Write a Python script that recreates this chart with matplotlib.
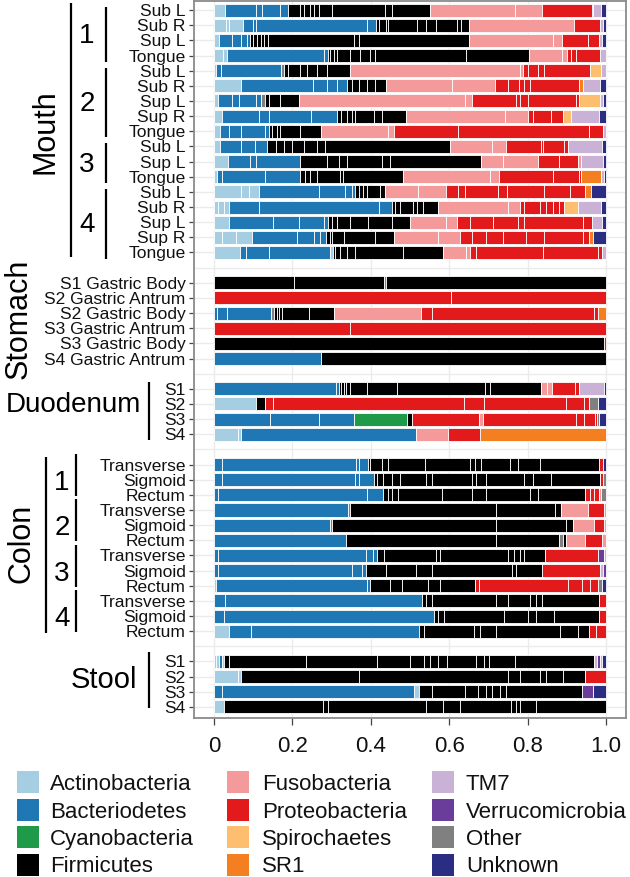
import numpy as np
import matplotlib
matplotlib.use("Agg")
import matplotlib.pyplot as plt
from matplotlib.patches import Rectangle
from matplotlib import transforms

plt.rcParams['font.family'] = ['Liberation Sans', 'DejaVu Sans']

# phyla, one letter code each
phyla = ["Actinobacteria", "Bacteriodetes", "Cyanobacteria", "Firmicutes",
         "Fusobacteria", "Proteobacteria", "Spirochaetes", "SR1",
         "TM7", "Verrucomicrobia", "Other", "Unknown"]
phylum_codes = "ABCFUPSRTVON"
phylum_colors = ["#a6cee3", "#1f78b4", "#1f9a48", "#000000", "#f59a9b", "#e31a1c",
                 "#fdbf6f", "#f47f20", "#cab2d6", "#6a3d9a", "#808080", "#2b2d83"]

# each bar = string of segment codes + cumulative end of each segment

mouth_labels = ["Sub L", "Sub R", "Sup L", "Tongue",
                "Sub L", "Sub R", "Sup L", "Sup R", "Tongue",
                "Sub L", "Sup L", "Tongue",
                "Sub L", "Sub R", "Sup L", "Sup R", "Tongue"]
mouth_codes = ["ABBBBFFFFFFFFFUUPPTN",
               "AAABBBBFFFFFFFFFUPTN",
               "ABBBBFFFFFFFFUUPPTN",
               "AABBFFFFFFFFFUUPPPT",
               "ABBOFFFFFFUUPPPPST",
               "ABBBBFFFFFUUPPPPPRTN",
               "ABBBBOFFFUUPPPPPSTN",
               "ABBBBFFFFFFFUUPPPSTN",
               "ABBBBFFFFFUUPPPT",
               "ABBBFFFFFFFUUPPPPTN",
               "ABBBFFFFFFUUPPUTN",
               "ABBBFFFFFFUUPPPRTN",
               "AAABBBBFFFFFUUPPPPPPPRN",
               "AAABBBFFFFFFUUPPPPPPSTN",
               "ABBBBFFFFFFUUPPPPPPTN",
               "AAABBBBFFFFFUUPPPPPPPRN",
               "ABBBAFFFFFFUUPPPPT"]
mouth_ends = [
    [0.027, 0.108, 0.123, 0.168, 0.19, 0.22, 0.229, 0.244, 0.254, 0.267, 0.30, 0.436, 0.453, 0.551,
     0.767, 0.837, 0.964, 0.968, 0.987, 1.0],
    [0.03, 0.038, 0.075, 0.10, 0.108, 0.39, 0.414, 0.422, 0.439, 0.445, 0.517, 0.541, 0.566, 0.619,
     0.631, 0.651, 0.919, 0.985, 0.992, 1.0],
    [0.013, 0.047, 0.068, 0.085, 0.093, 0.1, 0.11, 0.119, 0.127, 0.137, 0.356, 0.369, 0.651,
     0.864, 0.888, 0.953, 0.981, 0.99, 1.0],
    [0.024, 0.032, 0.28, 0.29, 0.297, 0.305, 0.314, 0.347, 0.373, 0.398, 0.411, 0.644, 0.803,
     0.888, 0.9, 0.911, 0.924, 0.985, 1.0],
    [0.004, 0.017, 0.171, 0.178, 0.19, 0.22, 0.237, 0.263, 0.288, 0.346, 0.78, 0.788,
     0.8, 0.826, 0.843, 0.958, 0.987, 1.0],
    [0.069, 0.253, 0.288, 0.314, 0.339, 0.352, 0.369, 0.39, 0.411, 0.439, 0.608, 0.716,
     0.75, 0.778, 0.792, 0.805, 0.932, 0.942, 0.985, 1.0],
    [0.01, 0.047, 0.064, 0.108, 0.119, 0.13, 0.14, 0.168, 0.216, 0.64, 0.659,
     0.771, 0.78, 0.8, 0.924, 0.932, 0.985, 0.993, 1.0],
    [0.021, 0.114, 0.14, 0.247, 0.314, 0.324, 0.339, 0.352, 0.36, 0.407, 0.428, 0.49,
     0.742, 0.801, 0.814, 0.86, 0.89, 0.911, 0.981, 1.0],
    [0.015, 0.038, 0.069, 0.131, 0.14, 0.148, 0.161, 0.169, 0.22, 0.273, 0.445, 0.458,
     0.623, 0.956, 0.992, 1.0],
    [0.015, 0.069, 0.105, 0.136, 0.157, 0.178, 0.199, 0.229, 0.263, 0.284, 0.602, 0.708, 0.744,
     0.835, 0.839, 0.894, 0.903, 0.99, 1.0],
    [0.036, 0.093, 0.108, 0.22, 0.288, 0.318, 0.339, 0.428, 0.449, 0.682, 0.737, 0.826,
     0.881, 0.928, 0.936, 0.992, 1.0],
    [0.007, 0.02, 0.131, 0.22, 0.233, 0.246, 0.263, 0.322, 0.329, 0.481, 0.705, 0.727,
     0.864, 0.932, 0.936, 0.987, 0.994, 1.0],
    [0.068, 0.089, 0.114, 0.267, 0.335, 0.352, 0.36, 0.369, 0.381, 0.39, 0.424, 0.436, 0.521, 0.592,
     0.622, 0.64, 0.725, 0.747, 0.843, 0.907, 0.947, 0.962, 1.0],
    [0.01, 0.025, 0.038, 0.114, 0.422, 0.453, 0.462, 0.475, 0.508, 0.517, 0.534, 0.572, 0.75, 0.78,
     0.792, 0.831, 0.847, 0.864, 0.88, 0.892, 0.928, 0.987, 1.0],
    [0.038, 0.151, 0.216, 0.281, 0.292, 0.301, 0.314, 0.347, 0.394, 0.453, 0.5, 0.593, 0.62,
     0.652, 0.712, 0.775, 0.792, 0.941, 0.964, 0.99, 1.0],
    [0.021, 0.055, 0.097, 0.212, 0.254, 0.271, 0.286, 0.295, 0.301, 0.331, 0.411, 0.458, 0.572, 0.627,
     0.657, 0.695, 0.737, 0.797, 0.843, 0.941, 0.956, 0.968, 1.0],
    [0.066, 0.081, 0.14, 0.297, 0.303, 0.309, 0.322, 0.339, 0.36, 0.483, 0.585, 0.644, 0.653,
     0.669, 0.839, 0.979, 0.99, 1.0],
]

stomach_labels = ["S1 Gastric Body", "S2 Gastric Antrum", "S2 Gastric Body",
                  "S3 Gastric Antrum", "S3 Gastric Body", "S4 Gastric Antrum"]
stomach_codes = ["FFOF", "PP", "BBBOFFFFFUPPPR", "PP", "FP", "BF"]
stomach_ends = [
    [0.204, 0.434, 0.44, 1.0],
    [0.605, 1.0],
    [0.007, 0.034, 0.146, 0.153, 0.16, 0.165, 0.173, 0.242, 0.306, 0.529, 0.556, 0.969, 0.98, 1.0],
    [0.347, 1.0],
    [0.995, 1.0],
    [0.273, 1.0],
]

duodenum_labels = ["S1", "S2", "S3", "S4"]
duodenum_codes = ["BBFFFFFFFFFUUPPTN", "AFPPPPPPON", "BBBCFPUPPPPON", "AABUPR"]
duodenum_ends = [
    [0.312, 0.318, 0.324, 0.331, 0.337, 0.346, 0.39, 0.466, 0.691, 0.703, 0.835, 0.85, 0.862,
     0.922, 0.93, 0.996, 1.0],
    [0.106, 0.131, 0.15, 0.637, 0.688, 0.898, 0.945, 0.956, 0.979, 1.0],
    [0.144, 0.269, 0.356, 0.492, 0.504, 0.676, 0.685, 0.924, 0.945, 0.973, 0.978, 0.983, 1.0],
    [0.061, 0.068, 0.515, 0.597, 0.678, 1.0],
]

colon_labels = ["Transverse", "Sigmoid", "Rectum"] * 4
colon_codes = ["BBBBFFFFFFFFFFFPN",
               "BBBBFFFFFFFFFFFFFPO",
               "BBBFFFFFFFFFPPPUO",
               "BOFFFUPU",
               "BOFFFUPU",
               "BFFOFUPU",
               "BBBBFFFFFFFFPVT",
               "BBBBFFFFFFPTV",
               "ABBFFFFFPPPPPON",
               "BBFFFFFFFFP",
               "BBFFFFFFFP",
               "ABBFFFFFFFPP"]
colon_ends = [
    [0.021, 0.363, 0.369, 0.394, 0.398, 0.428, 0.445, 0.538, 0.653, 0.665, 0.682, 0.754, 0.775,
     0.831, 0.981, 0.992, 1.0],
    [0.021, 0.36, 0.371, 0.407, 0.415, 0.432, 0.453, 0.475, 0.542, 0.555, 0.657, 0.669, 0.695,
     0.792, 0.814, 0.86, 0.985, 0.993, 1.0],
    [0.01, 0.39, 0.432, 0.445, 0.453, 0.47, 0.581, 0.657, 0.695, 0.805, 0.826, 0.947,
     0.958, 0.97, 0.983, 0.987, 1.0],
    [0.341, 0.347, 0.719, 0.869, 0.886, 0.953, 0.996, 1.0],
    [0.295, 0.30, 0.719, 0.898, 0.915, 0.97, 0.996, 1.0],
    [0.337, 0.72, 0.881, 0.89, 0.898, 0.947, 0.99, 1.0],
    [0.01, 0.388, 0.406, 0.416, 0.434, 0.566, 0.577, 0.75, 0.765, 0.781, 0.791, 0.844,
     0.98, 0.996, 1.0],
    [0.01, 0.352, 0.378, 0.388, 0.439, 0.515, 0.556, 0.76, 0.77, 0.837, 0.985, 0.993, 1.0],
    [0.005, 0.391, 0.398, 0.449, 0.48, 0.546, 0.577, 0.666, 0.677, 0.903, 0.939, 0.959, 0.98,
     0.99, 1.0],
    [0.028, 0.531, 0.541, 0.556, 0.719, 0.75, 0.806, 0.821, 0.837, 0.983, 1.0],
    [0.026, 0.561, 0.571, 0.587, 0.74, 0.801, 0.821, 0.867, 0.983, 1.0],
    [0.038, 0.095, 0.523, 0.536, 0.663, 0.679, 0.719, 0.883, 0.929, 0.956, 0.974, 1.0],
]

stool_labels = ["S1", "S2", "S3", "S4"]
stool_codes = ["AABAFFFFFFFFFFFFFTVTN", "AAFFFFFFFP", "BBAFFFFFFFFVN", "AFFFFFFFFFF"]
stool_ends = [
    [0.005, 0.013, 0.02, 0.026, 0.038, 0.235, 0.415, 0.5, 0.536, 0.551, 0.571, 0.595, 0.668,
     0.689, 0.701, 0.768, 0.969, 0.976, 0.984, 0.99, 1.0],
    [0.061, 0.069, 0.37, 0.75, 0.781, 0.832, 0.847, 0.891, 0.946, 1.0],
    [0.02, 0.51, 0.523, 0.556, 0.64, 0.673, 0.694, 0.71, 0.73, 0.745, 0.939, 0.967, 1.0],
    [0.026, 0.278, 0.291, 0.541, 0.585, 0.628, 0.758, 0.77, 0.781, 0.821, 1.0],
]

mouth_groups = [4, 5, 3, 5]
colon_groups = [3, 3, 3, 3]

sections = [("Mouth", mouth_labels, mouth_codes, mouth_ends),
            ("Stomach", stomach_labels, stomach_codes, stomach_ends),
            ("Duodenum", duodenum_labels, duodenum_codes, duodenum_ends),
            ("Colon", colon_labels, colon_codes, colon_ends),
            ("Stool", stool_labels, stool_codes, stool_ends)]

color_of = dict(zip(phylum_codes, phylum_colors))

W, H = 630, 877
fig = plt.figure(figsize=(W / 100, H / 100), dpi=100)
ax = fig.add_axes([194 / W, 1 - 718 / H, 432 / W, 717 / H])

slot = 0
ypos, ylab, first = [], [], {}
for name, labels, codes, ends in sections:
    first[name] = slot
    for lab, cc, ee in zip(labels, codes, ends):
        assert len(cc) == len(ee), (name, lab)
        ee = np.array(ee)
        left = np.concatenate([[0.0], ee[:-1]])
        ax.barh(np.full(len(ee), slot), ee - left, left=left, height=0.86,
                color=[color_of[c] for c in cc], edgecolor="white", linewidth=0.6, zorder=2)
        ypos.append(slot)
        ylab.append(lab)
        slot += 1
    slot += 1
nslots = slot - 1

# grid
xt = [0, 0.2, 0.4, 0.6, 0.8, 1.0]
ax.vlines(xt, -1, nslots + 1, color="#ebebeb", lw=1.0, zorder=0)
ax.hlines(range(nslots), -0.1, 1.1, color="#ebebeb", lw=1.0, zorder=0)

ax.set_xlim(-0.051, 1.051)
ax.set_ylim(nslots - 1 + 0.73, -0.6)
ax.set_xticks(xt)
ax.set_xticklabels(["0", "0.2", "0.4", "0.6", "0.8", "1.0"], fontsize=16)
ax.set_yticks(ypos)
ax.set_yticklabels(ylab, fontsize=12.5)
ax.tick_params(axis="y", length=3.5, width=0.9, color="#444444", pad=2.5, labelcolor="#111111")
ax.tick_params(axis="x", length=5, width=0.9, color="#444444", pad=8, labelcolor="#111111")
for s in ax.spines.values():
    s.set_color("#8a8a8a")
    s.set_linewidth(1.3)

# group labels and brackets on the left
tr = transforms.blended_transform_factory(fig.transFigure, ax.transData)


def vline(xpx, y0, y1):
    ax.plot([xpx / W, xpx / W], [y0, y1], transform=tr, color="black", lw=1.6,
            clip_on=False, solid_capstyle="butt")


def rot_label(xpx, y, s):
    ax.text(xpx / W, y, s, transform=tr, rotation=90, rotation_mode="anchor",
            ha="center", va="baseline", fontsize=22)


# Mouth
m0 = first["Mouth"]
rot_label(54, m0 + 8, "Mouth")
vline(71, m0 - 0.45, m0 + 16.3)
g = m0
for i, n in enumerate(mouth_groups):
    vline(106, g - 0.2, g + n - 1 + 0.4)
    ax.text(87 / W, g + (n - 1) / 2, str(i + 1), transform=tr, ha="center",
            va="center_baseline", fontsize=20)
    g += n

# Stomach
s0 = first["Stomach"]
rot_label(27, s0 + 2.4, "Stomach")

# Duodenum
d0 = first["Duodenum"]
ax.text(141 / W, d0 + 1.53, "Duodenum", transform=tr, ha="right", va="baseline", fontsize=20)
vline(149, d0 - 0.45, d0 + 3.4)

# Colon
c0 = first["Colon"]
rot_label(30, c0 + 5.2, "Colon")
vline(46, c0 - 0.5, c0 + 11.1)
g = c0
for i, n in enumerate(colon_groups):
    vline(76, g - 0.7, g + n - 1 + 0.05)
    ax.text(62 / W, g + (n - 1) / 2, str(i + 1), transform=tr, ha="center",
            va="center_baseline", fontsize=20)
    g += n

# Stool
t0 = first["Stool"]
ax.text(137 / W, t0 + 1.75, "Stool", transform=tr, ha="right", va="baseline", fontsize=21)
vline(149, t0 - 0.6, t0 + 3.07)

# legend, 3 columns x 4 rows
col_patch_x = [17, 227, 432]
col_text_x = [50, 262, 466]
for i, (name, colr) in enumerate(zip(phyla, phylum_colors)):
    c, r = divmod(i, 4)
    yc = 782 + r * 27.5
    fig.add_artist(Rectangle((col_patch_x[c] / W, 1 - (yc + 11) / H), 22 / W, 22 / H,
                             transform=fig.transFigure, facecolor=colr, edgecolor="none"))
    fig.text(col_text_x[c] / W, 1 - yc / H, name, ha="left", va="center_baseline",
             fontsize=16, color="#111111")

fig.savefig("out.png", dpi=100)
